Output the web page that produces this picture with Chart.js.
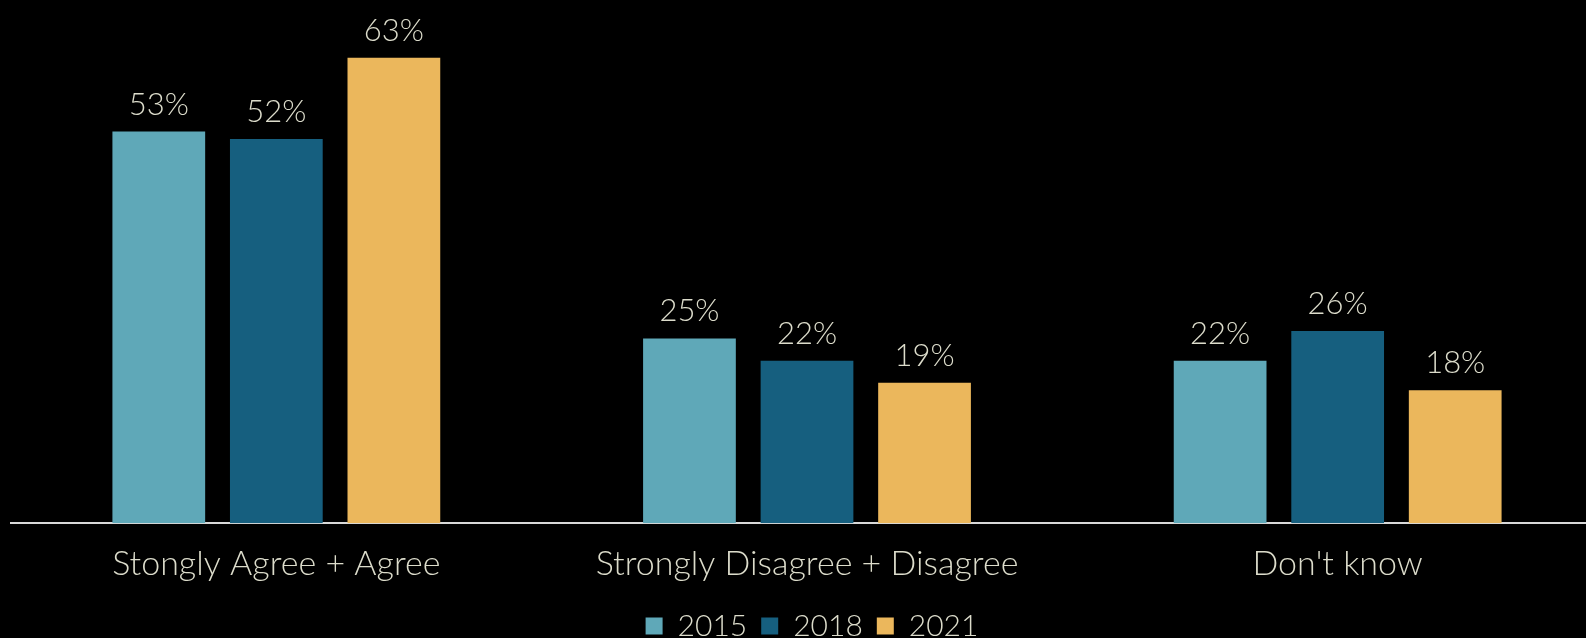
<!DOCTYPE html>
<html>
<head>
<meta charset="utf-8">
<script src="https://cdn.jsdelivr.net/npm/chart.js@4.4.0/dist/chart.umd.min.js"></script>
<style>
  html, body { margin: 0; padding: 0; background: #000; overflow: hidden; }
  #wrap { position: relative; width: 1613px; height: 651px; }
</style>
</head>
<body>
<div id="wrap"><canvas id="c"></canvas></div>
<script>
const categories = ['Stongly Agree + Agree', 'Strongly Disagree + Disagree', "Don't know"];
const seriesNames = ['2015', '2018', '2021'];
const values2015 = [53, 25, 22];
const values2018 = [52, 22, 26];
const values2021 = [63, 19, 18];
const seriesColors = ['#5fa8b8', '#165f7f', '#ebb75c'];
const textColor = '#dcdccb';
const fontFamily = 'Lato, "Open Sans", sans-serif';

const labelPlugin = {
  id: 'valueLabels',
  afterDatasetsDraw(chart) {
    const ctx = chart.ctx;
    ctx.save();
    ctx.font = '300 31px ' + fontFamily;
    ctx.fillStyle = textColor;
    ctx.textAlign = 'center';
    ctx.textBaseline = 'alphabetic';
    chart.data.datasets.forEach((ds, di) => {
      const meta = chart.getDatasetMeta(di);
      meta.data.forEach((el, i) => {
        ctx.fillText(ds.data[i] + '%', el.x, el.y - 17);
      });
    });
    ctx.restore();
  }
};

const seriesValues = [values2015, values2018, values2021];
new Chart(document.getElementById('c'), {
  type: 'bar',
  data: {
    labels: categories,
    datasets: seriesNames.map((n, i) => ({
      label: n,
      data: seriesValues[i],
      backgroundColor: seriesColors[i],
      borderWidth: 0,
      categoryPercentage: 0.6645,
      barPercentage: 0.789
    }))
  },
  options: {
    responsive: true,
    maintainAspectRatio: false,
    animation: false,
    layout: { padding: { left: 11, right: 0, top: 6, bottom: 0 } },
    plugins: {
      tooltip: { enabled: false },
      legend: {
        position: 'bottom',
        labels: {
          color: textColor,
          font: { family: fontFamily, size: 30, weight: '300' },
          boxWidth: 17,
          boxHeight: 17,
          padding: 14
        }
      }
    },
    scales: {
      x: {
        grid: { display: false, drawTicks: false },
        border: { display: true, color: '#d9d9d9', width: 2 },
        ticks: { color: textColor, font: { family: fontFamily, size: 34, weight: '300' }, padding: 20 },
        afterFit(scale) { scale.height -= 7; }
      },
      y: {
        display: true,
        position: 'right',
        min: 0,
        max: 70,
        grid: { display: false, drawTicks: false },
        border: { display: false },
        ticks: { display: false },
        afterFit(scale) { scale.width = 10; }
      }
    }
  },
  plugins: [labelPlugin]
});
</script>
</body>
</html>
